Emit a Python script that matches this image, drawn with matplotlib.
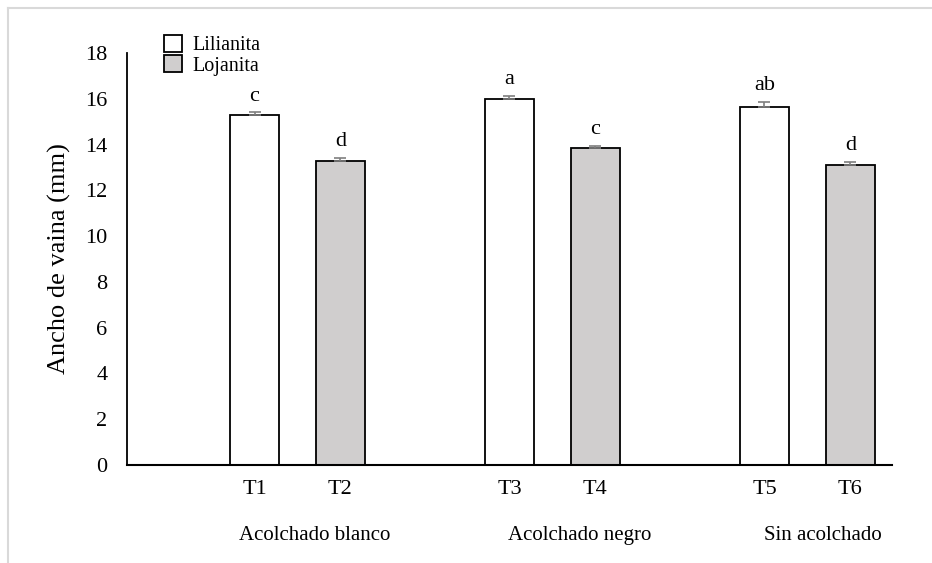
import matplotlib.pyplot as plt
from matplotlib.lines import Line2D
import numpy as np

# mean pod width (mm) per mulch treatment, two varieties
groups = ["Acolchado blanco", "Acolchado negro", "Sin acolchado"]
lilianita = [15.3, 16.0, 15.65]
lojanita = [13.3, 13.85, 13.1]
lilianita_err = [0.1, 0.1, 0.2]
lojanita_err = [0.12, 0.1, 0.15]
lilianita_ticks = ["T1", "T3", "T5"]
lojanita_ticks = ["T2", "T4", "T6"]
lilianita_letters = ["c", "a", "ab"]
lojanita_letters = ["d", "c", "d"]

plt.rcParams["font.family"] = ["Liberation Serif", "DejaVu Serif"]

fig = plt.figure(figsize=(9.32, 5.63), dpi=100)
ax = fig.add_axes([0.1363, 0.174, 0.8207, 0.732])

x = np.arange(len(groups)) + 0.5
offset = 0.337
width = 0.192

# only the upper half of each error bar is drawn
err_style = dict(ecolor="#7f7f7f", elinewidth=1.2, capsize=4, capthick=1.2)
b1 = ax.bar(x, lilianita, width, color="white", edgecolor="black",
            linewidth=1.3, yerr=[[0] * 3, lilianita_err], error_kw=err_style,
            label="Lilianita")
b2 = ax.bar(x + offset, lojanita, width, color="#d0cece", edgecolor="black",
            linewidth=1.3, yerr=[[0] * 3, lojanita_err], error_kw=err_style,
            label="Lojanita")

# significance letters above the error bars
for xs, vals, errs, letters in [(x, lilianita, lilianita_err, lilianita_letters),
                                (x + offset, lojanita, lojanita_err, lojanita_letters)]:
    for xi, v, e, t in zip(xs, vals, errs, letters):
        ax.annotate(t, (xi, v + e), xytext=(0, 5), textcoords="offset points",
                    ha="center", va="bottom", fontsize=16)

ax.set_xlim(0, 3)
ax.set_ylim(0, 18)
ax.set_yticks(range(0, 19, 2))
ax.tick_params(axis="y", length=0, labelsize=16, pad=14)

ticks = np.concatenate([x, x + offset])
ax.set_xticks(ticks)
ax.set_xticklabels(lilianita_ticks + lojanita_ticks)
ax.tick_params(axis="x", length=0, labelsize=16, pad=11)

for s in ["top", "right"]:
    ax.spines[s].set_visible(False)
ax.spines["left"].set_linewidth(1.3)
ax.spines["bottom"].set_linewidth(1.5)

ax.set_ylabel("Ancho de vaina (mm)", fontsize=19, labelpad=10)

# treatment group names under the T labels
group_x = [0.737, 1.776, 2.729]
for gx, name in zip(group_x, groups):
    ax.text(gx, -0.17, name, transform=ax.get_xaxis_transform(),
            ha="center", va="center", fontsize=15)

leg = fig.legend(handles=[b1, b2], loc="upper left",
                 bbox_to_anchor=(0.161, 0.963), frameon=False, fontsize=14.5,
                 handlelength=0.9, handleheight=0.9, handletextpad=0.5,
                 labelspacing=0.0, borderpad=0.2)

# chart frame edges (top and left)
fig.add_artist(Line2D([0.0086, 1.0], [0.986, 0.986], color="#d9d9d9",
                      linewidth=1.5, transform=fig.transFigure))
fig.add_artist(Line2D([0.0086, 0.0086], [0.0, 0.986], color="#d9d9d9",
                      linewidth=1.5, transform=fig.transFigure))

fig.savefig("out.png", dpi=100)
